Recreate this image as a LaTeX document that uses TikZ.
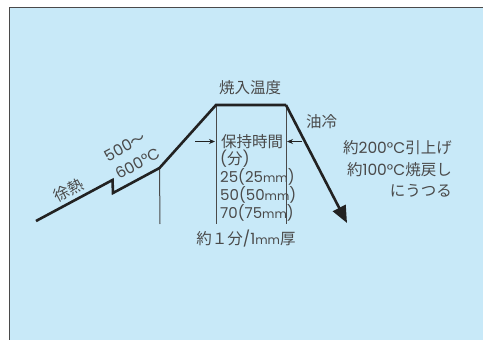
\documentclass[tikz,border=0pt]{standalone}
\usepackage{fontspec}
\setmainfont{Poppins}
\newfontfamily\cjk{Noto Sans CJK JP}
\usetikzlibrary{arrows.meta}
\definecolor{bgblue}{HTML}{C8E9F8}
\definecolor{ink}{HTML}{222222}
\definecolor{txt}{HTML}{4A4A4A}
\newcommand{\jp}[1]{{\cjk #1}}
\newcommand{\mmu}{{\fontsize{12}{14}\selectfont mm}}
\tikzset{
  curve/.style={line width=2.6pt, draw=ink, line join=miter},
  guide/.style={line width=1pt, draw=txt},
  lbl/.style={text=txt, font=\fontsize{15.5}{18}\selectfont, inner sep=0pt},
  small/.style={text=txt, font=\fontsize{15}{17}\selectfont, inner sep=0pt},
  harrow/.style={line width=0.8pt, draw=ink, -{Stealth[length=6pt,width=5pt]}}
}
\begin{document}
\begin{tikzpicture}[x=1pt,y=-1pt]
\useasboundingbox (0,0) rectangle (483,340);
\fill[bgblue] (9,7) rectangle (483,340);
\draw[line width=1pt, draw=txt] (9,340) -- (9,7) -- (483,7);
% coordinates
\coordinate (p0) at (36,221);
\coordinate (p1) at (112.5,180);
\coordinate (p2) at (113,193);
\coordinate (p3) at (159.5,168);
\coordinate (p4) at (216,105);
\coordinate (p5) at (286,105);
\coordinate (p6) at (347,223);
\coordinate (b1) at (160,224);
\coordinate (b4) at (216,224);
\coordinate (b5) at (286,224);
\coordinate (al) at (195,141.5);
\coordinate (ar) at (302,141.5);
\coordinate (alt) at (215,141.5);
\coordinate (art) at (287,141.5);
% guides
\draw[guide] (p3) -- (b1);
\draw[guide] (p4) -- (b4);
\draw[guide] (p5) -- (b5);
\draw[harrow] (al) -- (alt);
\draw[harrow] (ar) -- (art);
% main curve
\draw[curve] (p0) -- (p1) -- (p2) -- (p3) -- (p4) -- (p5);
\draw[curve, -{Triangle[length=17pt,width=14pt]}] (p5) -- (p6);
% labels
\node[lbl] (yaki) at (250,88) {\jp{焼入温度}};
\node[lbl] (yurei) at (321.5,122) {\jp{油冷}};
\node[lbl, anchor=east] (t1) at (452,148) {\jp{約}200°C\jp{引上げ}};
\node[lbl, anchor=east] (t2) at (452,169.5) {\jp{約}100°C\jp{焼戻し}};
\node[lbl, anchor=east] (t3) at (452,191) {\jp{にうつる}};
\node[lbl, anchor=west] (h1) at (221,141.5) {\jp{保持時間}};
\node[lbl, anchor=west] (h2) at (220,158.5) {(\jp{分})};
\node[small, anchor=west] (h3) at (220,177) {25(25\mmu)};
\node[small, anchor=west] (h4) at (220,195) {50(50\mmu)};
\node[small, anchor=west] (h5) at (220,213) {70(75\mmu)};
\node[lbl] (yaku) at (246,238.5) {\jp{約１分}/1\mmu\jp{厚}};
\node[lbl, rotate=28] (jo) at (68.5,190) {\jp{徐熱}};
\node[lbl, rotate=28] (t500) at (125,146.5) {500\jp{～}};
\node[lbl, rotate=28] (t600) at (137.5,163.5) {600°C};
\end{tikzpicture}
\end{document}
